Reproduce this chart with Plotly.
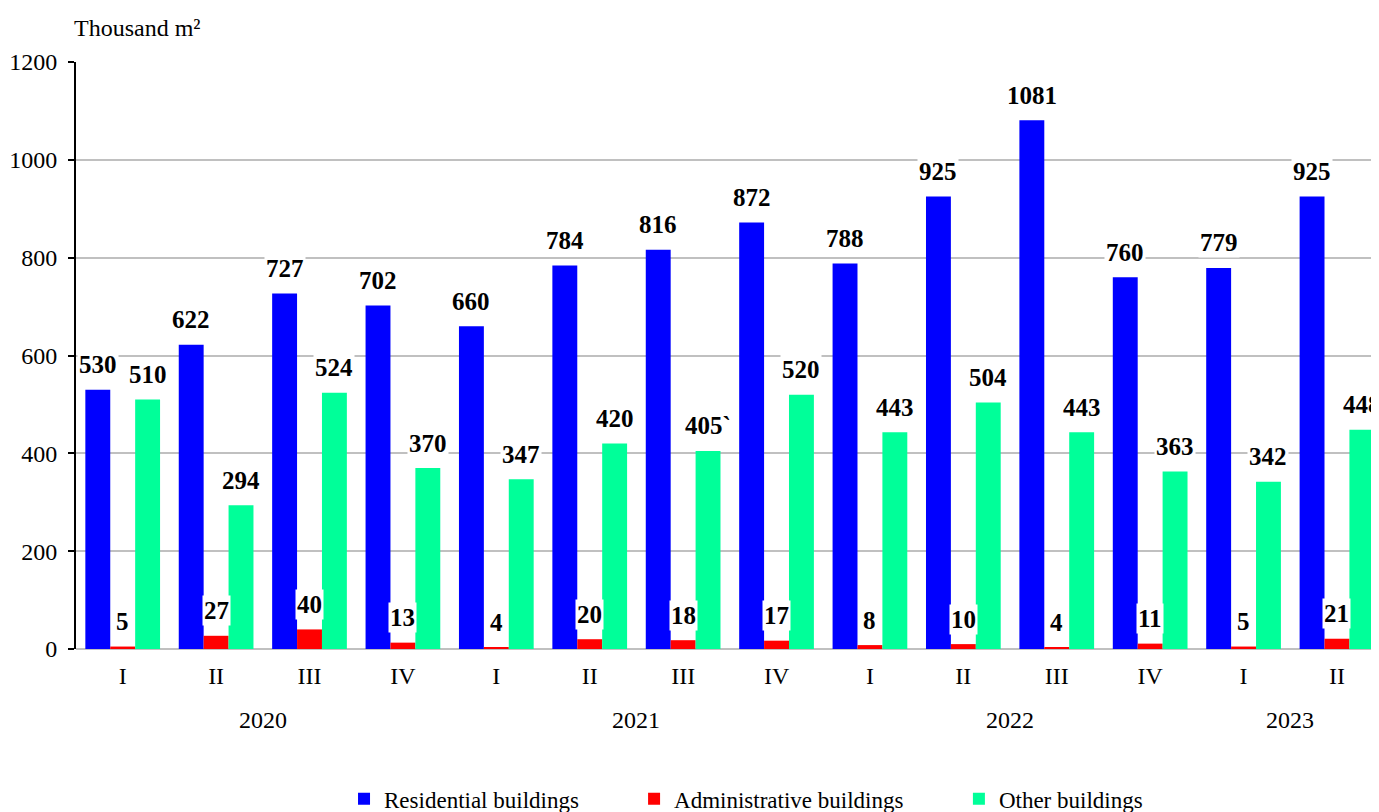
import plotly.graph_objects as go

quarters = ["I", "II", "III", "IV", "I", "II", "III", "IV", "I", "II", "III", "IV", "I", "II"]
years = ["2020"] * 4 + ["2021"] * 4 + ["2022"] * 4 + ["2023"] * 2
residential = [530, 622, 727, 702, 660, 784, 816, 872, 788, 925, 1081, 760, 779, 925]
administrative = [5, 27, 40, 13, 4, 20, 18, 17, 8, 10, 4, 11, 5, 21]
other = [510, 294, 524, 370, 347, 420, 405, 520, 443, 504, 443, 363, 342, 448]
other_labels = [str(v) for v in other]
other_labels[6] = "405`"

series = [
    ("Residential buildings", residential, [str(v) for v in residential], "#0000FF"),
    ("Administrative buildings", administrative, [str(v) for v in administrative], "#FF0000"),
    ("Other buildings", other, other_labels, "#00FF99"),
]
legend_x = [0.2057, 0.4283, 0.6776]

idx = list(range(len(quarters)))
bargap = 0.2
nser = len(series)
bw = (1 - bargap) / nser

FONT = "Liberation Serif"
fig = go.Figure()
annotations = []
legends = {}
for k, (name, vals, labels, color) in enumerate(series):
    lname = "legend" if k == 0 else f"legend{k + 1}"
    legends[lname] = dict(orientation="h", x=legend_x[k], xanchor="left", y=-0.255, yanchor="middle",
                          font=dict(family=FONT, size=23, color="black"),
                          bgcolor="rgba(0,0,0,0)")
    fig.add_trace(go.Bar(x=idx, y=vals, name=name, legend=lname,
                         marker=dict(color=color, line=dict(width=0))))
    off = (k - (nser - 1) / 2) * bw
    for i, (v, lab) in enumerate(zip(vals, labels)):
        annotations.append(dict(
            x=i + off, y=v, xref="x", yref="y", text=lab, showarrow=False,
            yanchor="middle", yshift=25, bgcolor="white", borderpad=1,
            font=dict(family=FONT, size=25, color="black", weight="bold"),
        ))

# year labels centred under their quarters
year_order = []
for y in years:
    if y not in year_order:
        year_order.append(y)
for y in year_order:
    pos = [i for i, yy in enumerate(years) if yy == y]
    annotations.append(dict(
        x=sum(pos) / len(pos), y=-0.121, xref="x", yref="paper", text=y,
        showarrow=False, yanchor="middle", font=dict(family=FONT, size=24, color="black"),
    ))

annotations.append(dict(
    x=-0.003, y=1.058, xref="paper", yref="paper", text="Thousand m²", showarrow=False,
    xanchor="left", yanchor="middle", font=dict(family=FONT, size=24, color="black"),
))

fig.update_layout(
    width=1371, height=804,
    margin=dict(l=68, r=0, t=54, b=163, autoexpand=False),
    paper_bgcolor="white", plot_bgcolor="white",
    barmode="group", bargap=bargap, bargroupgap=0,
    font=dict(family=FONT, size=22, color="black"),
    showlegend=True,
    annotations=annotations,
    xaxis=dict(
        range=[-0.5, 13.45], tickmode="array", tickvals=idx, ticktext=quarters,
        showgrid=False, showline=False, ticks="", zeroline=False,
        ticklabelstandoff=10,
        tickfont=dict(family=FONT, size=24, color="black"),
    ),
    yaxis=dict(
        range=[0, 1200], dtick=200, showline=True, linecolor="black", linewidth=2,
        ticks="outside", ticklen=6, tickcolor="black", tickwidth=2,
        showgrid=True, gridcolor="#c0c0c0", gridwidth=2,
        zeroline=True, zerolinecolor="#c0c0c0", zerolinewidth=2,
        ticklabelstandoff=6,
        tickfont=dict(family=FONT, size=24, color="black"),
    ),
    **legends,
)

fig.write_html("out.html")
